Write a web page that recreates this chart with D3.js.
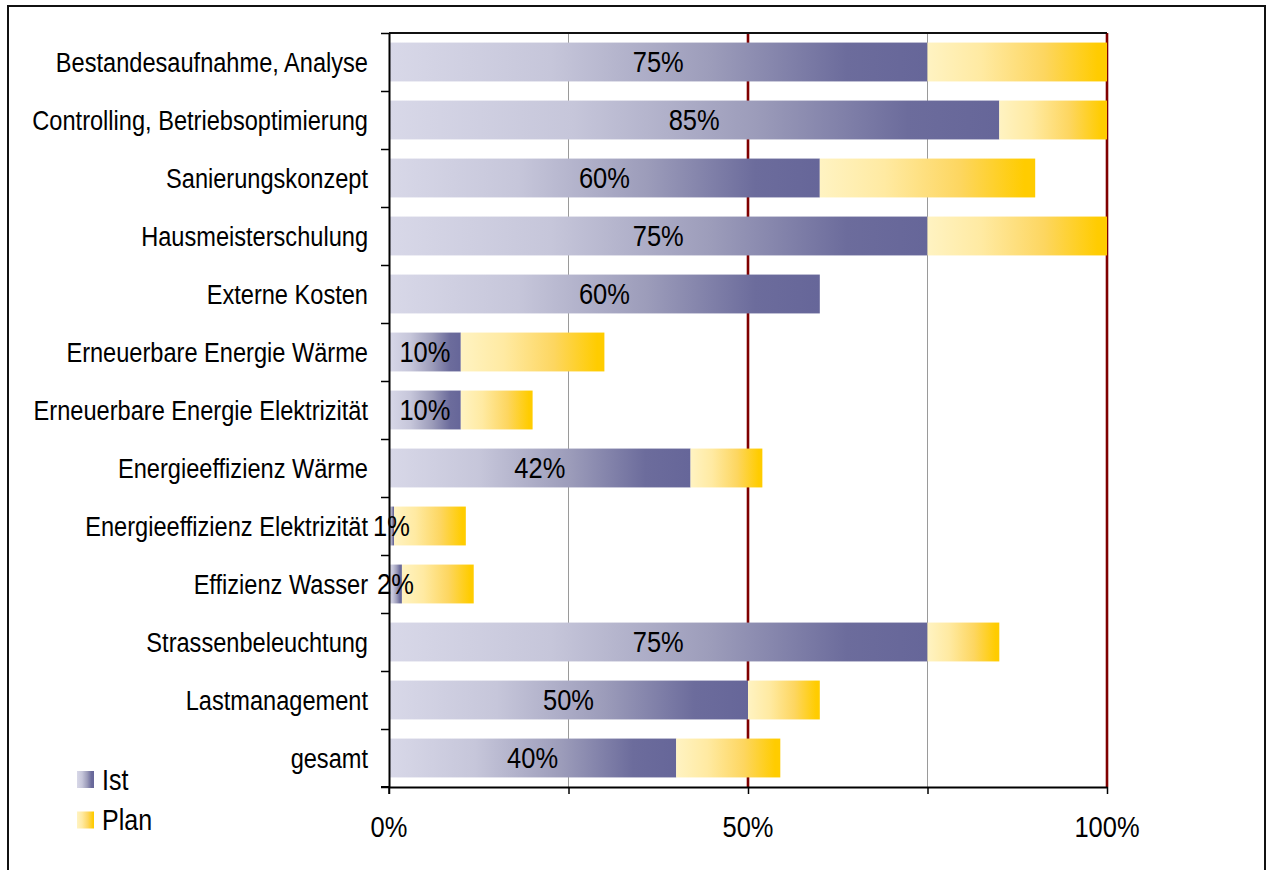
<!DOCTYPE html>
<html><head><meta charset="utf-8">
<script src="https://cdn.jsdelivr.net/npm/d3@7"></script>
<style>html,body{margin:0;padding:0;background:#fff;}svg{display:block;}</style>
</head><body>
<svg id="chart" width="1268" height="870"></svg>
<script>
const categories = ["Bestandesaufnahme, Analyse","Controlling, Betriebsoptimierung","Sanierungskonzept","Hausmeisterschulung","Externe Kosten","Erneuerbare Energie Wärme","Erneuerbare Energie Elektrizität","Energieeffizienz Wärme","Energieeffizienz Elektrizität","Effizienz Wasser","Strassenbeleuchtung","Lastmanagement","gesamt"];
const istValues  = [75, 85, 60, 75, 60, 10, 10, 42, 0.7, 1.8, 75, 50, 40];
const planValues = [25, 15, 30, 25, 0, 20, 10, 10, 10, 10, 10, 10, 14.5];
const xTicks = [0, 25, 50, 75, 100];
const xTickLabels = ["0%", "", "50%", "", "100%"];
const seriesNames = ["Ist", "Plan"];

const svg = d3.select("#chart");
const FONT = "Arial, 'Liberation Sans', sans-serif";
const SY = 1.15;
const L = 389, R = 1107, T = 33, B = 787;

// frame
svg.append("rect").attr("x", 8).attr("y", 6).attr("width", 1257).attr("height", 900)
  .attr("fill", "none").attr("stroke", "#111").attr("stroke-width", 2);

const defs = svg.append("defs");
function grad(id, stops) {
  const g = defs.append("linearGradient").attr("id", id).attr("x1", "0").attr("x2", "1").attr("y1", "0").attr("y2", "0");
  stops.forEach(s => g.append("stop").attr("offset", s[0]).attr("stop-color", s[1]));
}
grad("gIst", [[0, "#d8d8e8"], [0.3, "#c6c6da"], [0.6, "#9c9cba"], [0.85, "#6c6c9c"], [1, "#666699"]]);
grad("gPlan", [[0, "#fff3c2"], [0.3, "#ffeaa2"], [0.65, "#fdd660"], [0.95, "#ffcc00"], [1, "#ffcc00"]]);

const x = d3.scaleLinear().domain([0, 100]).range([L, R]);
const y = d3.scaleBand().domain(categories).range([T, B]).paddingInner(0.33).paddingOuter(0.165);
const yEdge = d3.scaleLinear().domain([0, categories.length]).range([T, B]);

function stext(g, tx, ty, str, size, anchor) {
  return g.append("text")
    .attr("transform", `translate(${tx},${ty}) scale(1,${SY})`)
    .attr("dy", "0.35em").attr("text-anchor", anchor)
    .attr("font-family", FONT).attr("font-size", size).attr("fill", "#000").text(str);
}

// gridlines
const grid = svg.append("g");
xTicks.filter(v => v > 0).forEach(v => {
  const red = v % 50 === 0;
  grid.append("line").attr("x1", x(v)).attr("x2", x(v)).attr("y1", T).attr("y2", B)
    .attr("stroke", red ? "#800000" : "#9a9a9a").attr("stroke-width", red ? 2.6 : 1);
});

// bars
const bars = svg.append("g");
categories.forEach((c, i) => {
  const yy = y(c), h = y.bandwidth();
  if (istValues[i] > 0)
    bars.append("rect").attr("x", x(0)).attr("y", yy).attr("width", x(istValues[i]) - x(0)).attr("height", h).attr("fill", "url(#gIst)");
  if (planValues[i] > 0)
    bars.append("rect").attr("x", x(istValues[i])).attr("y", yy).attr("width", x(istValues[i] + planValues[i]) - x(istValues[i])).attr("height", h).attr("fill", "url(#gPlan)");
});

// plot top border
svg.append("line").attr("x1", L).attr("x2", R).attr("y1", T).attr("y2", T).attr("stroke", "#111").attr("stroke-width", 2);

// bottom axis
const xAxis = svg.append("g").attr("transform", `translate(0,${B})`)
  .call(d3.axisBottom(x).tickValues(xTicks).tickSize(7).tickSizeOuter(0).tickFormat(""));
xAxis.select(".domain").attr("stroke", "#000").attr("stroke-width", 2);
xAxis.selectAll(".tick line").attr("stroke", "#000").attr("stroke-width", 1.5);
svg.append("line").attr("x1", 381).attr("x2", L).attr("y1", B).attr("y2", B).attr("stroke", "#000").attr("stroke-width", 2);
xTicks.forEach((v, i) => { if (xTickLabels[i]) stext(svg, x(v), 827, xTickLabels[i], "25.5px", "middle"); });

// left axis
const yAxis = svg.append("g").attr("transform", `translate(${L},0)`)
  .call(d3.axisLeft(yEdge).tickValues(d3.range(categories.length + 1)).tickSize(8).tickSizeOuter(0).tickFormat(""));
yAxis.select(".domain").attr("stroke", "#000").attr("stroke-width", 2);
yAxis.selectAll(".tick line").attr("stroke", "#000").attr("stroke-width", 1.5);
svg.append("line").attr("x1", L).attr("x2", L).attr("y1", B).attr("y2", B + 7).attr("stroke", "#000").attr("stroke-width", 1.5);

// category labels
categories.forEach(c => stext(svg, 368, y(c) + y.bandwidth() / 2, c, "23.6px", "end"));

// value labels
const fmt = d3.format(".0f");
categories.forEach((c, i) => {
  stext(svg, (x(0) + x(istValues[i])) / 2, y(c) + y.bandwidth() / 2, fmt(istValues[i]) + "%", "25.5px", "middle");
});

// legend
const legY = [779.5, 820];
seriesNames.forEach((s, i) => {
  svg.append("rect").attr("x", 77).attr("y", legY[i] - 8.5).attr("width", 17).attr("height", 17)
    .attr("fill", i === 0 ? "url(#gIst)" : "url(#gPlan)");
  stext(svg, 102, legY[i], s, "25px", "start");
});
</script>
</body></html>
